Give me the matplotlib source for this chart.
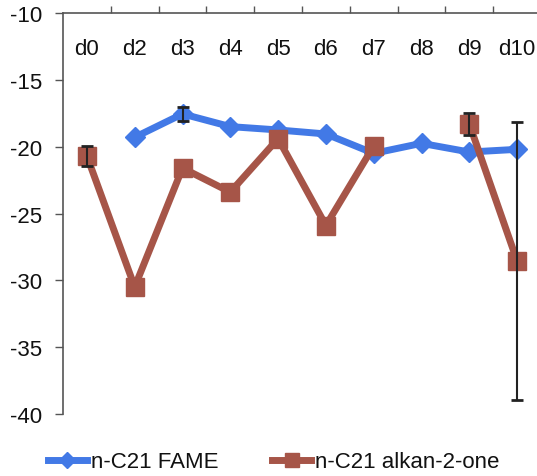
import numpy as np
import matplotlib
matplotlib.use("Agg")
import matplotlib.pyplot as plt

plt.rcParams['font.family'] = ['Liberation Sans', 'DejaVu Sans']

categories = ['d0', 'd2', 'd3', 'd4', 'd5', 'd6', 'd7', 'd8', 'd9', 'd10']
fame = [np.nan, -19.3, -17.55, -18.5, -18.75, -19.05, -20.5, -19.75, -20.4, -20.2]
fame_err = [0, 0, 0.55, 0, 0, 0, 0, 0, 0, 0]
alkanone = [-20.7, -30.5, -21.6, -23.4, -19.4, -25.9, -19.95, np.nan, -18.3, -28.55]
alk_err = [0.75, 0, 0, 0, 0, 0, 0, 0, 0.8, 10.4]
yticks = [-10, -15, -20, -25, -30, -35, -40]

blue = '#4279E6'
brown = '#A65548'
FS = 16

fig = plt.figure(figsize=(5.37, 4.77), dpi=100)
ax = fig.add_axes([63/537, 1-415/477, 478/537, (415-14)/477])

x = np.arange(len(categories))
fame_a = np.array(fame); alk_a = np.array(alkanone)
fe = np.array(fame_err); ae = np.array(alk_err)

l1, = ax.plot(x, fame_a, color=blue, lw=5, marker='D', ms=10, mfc=blue, mec=blue,
              label='n-C21 FAME', zorder=3)
m = fe > 0
ax.errorbar(x[m], fame_a[m], yerr=fe[m], fmt='none', ecolor='#222222', elinewidth=1.5,
            capsize=4, capthick=2, zorder=4)
l2, = ax.plot(x, alk_a, color=brown, lw=5, marker='s', ms=13, mfc=brown, mec=brown,
              label='n-C21 alkan-2-one', zorder=5)
m = ae > 0
ax.errorbar(x[m], alk_a[m], yerr=ae[m], fmt='none', ecolor='#222222', elinewidth=1.5,
            capsize=4, capthick=2, zorder=6)

ax.set_xlim(-0.5, len(categories) - 0.5)
ax.set_ylim(-40, -10)
ax.set_yticks(yticks)
ax.set_yticklabels([str(v) for v in yticks], fontsize=FS)
ax.tick_params(axis='y', direction='out', length=6, width=1, color='#555555', pad=9,
               labelcolor='#111111')

ax.xaxis.tick_top()
ax.set_xticks(np.arange(len(categories)) + 0.5)
ax.set_xticklabels([])
ax.set_xticks(x, minor=True)
ax.set_xticklabels(categories, minor=True, fontsize=FS, color='#111111')
ax.tick_params(axis='x', which='major', direction='out', length=5, width=1, color='#555555')
ax.tick_params(axis='x', which='minor', length=0, pad=-33)

for s in ['bottom', 'right']:
    ax.spines[s].set_visible(False)
for s in ['top', 'left']:
    ax.spines[s].set_color('#555555')
    ax.spines[s].set_linewidth(1.2)

leg = fig.legend(handles=[l1, l2], loc='center', bbox_to_anchor=(0.51, 1-463/477), ncol=2,
                 frameon=False, fontsize=FS, handlelength=1.75, handletextpad=0.2,
                 columnspacing=2.4, markerscale=0.8)
for t in leg.get_texts():
    t.set_color('#111111')

fig.savefig('out.png', dpi=100)
